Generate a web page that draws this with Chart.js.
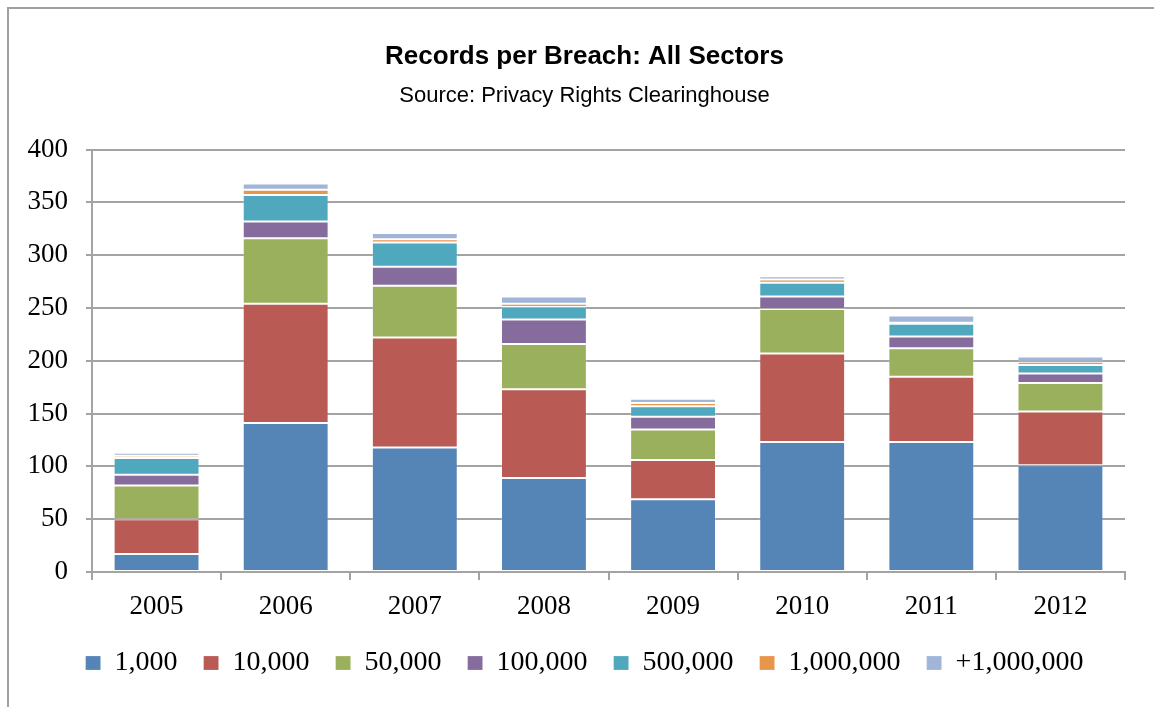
<!DOCTYPE html>
<html>
<head>
<meta charset="utf-8">
<title>Records per Breach: All Sectors</title>
<script src="https://cdn.jsdelivr.net/npm/chart.js@4.4.1/dist/chart.umd.min.js"></script>
<style>
    html, body { margin: 0; padding: 0; background: #fff; overflow: hidden; }
    #wrap { position: relative; width: 1154px; height: 707px; }
    /* chart frame: only its left and top edges fall inside the page */
    #frame {
        position: absolute; left: 7px; top: 7px;
        width: 1300px; height: 900px;
        border: 2px solid #a0a0a0;
    }
    #chart { position: absolute; left: 0; top: 0; }
</style>
</head>
<body>
<div id="wrap">
    <div id="frame"></div>
    <canvas id="chart" width="1154" height="707"></canvas>
</div>
<script>
// --- Data (breach counts by records lost, per year) ---
const years = ['2005', '2006', '2007', '2008', '2009', '2010', '2011', '2012'];
const seriesNames = ['1,000', '10,000', '50,000', '100,000', '500,000', '1,000,000', '+1,000,000'];

const upTo1k    = [17, 141, 118, 89, 69, 123, 123, 101];
const upTo10k   = [33, 113, 104, 84, 37, 84, 62, 51];
const upTo50k   = [32, 62, 49, 43, 29, 42, 27, 27];
const upTo100k  = [10, 16, 18, 23, 12, 12, 11, 9];
const upTo500k  = [16, 25, 23, 12, 10, 13, 12, 8];
const upTo1m    = [2, 5, 3, 3, 3, 3, 1, 3];
const over1m    = [3, 6, 6, 7, 4, 3, 7, 5];

const yTicks = [0, 50, 100, 150, 200, 250, 300, 350, 400];

// --- Palette ---
const COLORS = ['#5584b6', '#b95a54', '#9bb05d', '#856c9c', '#4fa8bd', '#e8964b', '#a1b5d8'];
const GRID = '#a3a3a3';
const SERIF = "'Liberation Serif', 'DejaVu Serif', serif";
const SANS = "'Liberation Sans', Arial, sans-serif";

const seriesValues = [upTo1k, upTo10k, upTo50k, upTo100k, upTo500k, upTo1m, over1m];

const datasets = seriesValues.map((values, i) => ({
    label: seriesNames[i],
    data: values,
    backgroundColor: COLORS[i],
    borderColor: 'rgba(255,255,255,0.2)',
    borderWidth: 1,
    borderSkipped: false,
    barPercentage: 0.665,
    categoryPercentage: 1.0
}));

// Title, subtitle and legend sit centred over the frame rather than the canvas,
// so nudge those full-width boxes right once the layout is done.
const centreHeaderBoxes = {
    id: 'centreHeaderBoxes',
    afterLayout(chart) {
        const shift = 22;
        chart.boxes
            .filter(b => b.fullSize && (b.position === 'top' || b.position === 'bottom'))
            .forEach(b => { b.left += shift; b.right += shift; });
    }
};

new Chart(document.getElementById('chart'), {
    type: 'bar',
    data: { labels: years, datasets: datasets },
    plugins: [centreHeaderBoxes],
    options: {
        responsive: false,
        animation: false,
        devicePixelRatio: 1,
        layout: { padding: { left: 0, right: 29, top: 0, bottom: 20 } },
        scales: {
            x: {
                stacked: true,
                offset: true,
                grid: {
                    offset: true,
                    drawOnChartArea: false,
                    drawTicks: true,
                    tickLength: 8,
                    color: GRID,
                    lineWidth: 2
                },
                border: { display: true, color: GRID, width: 2 },
                ticks: {
                    color: '#000',
                    padding: 11,
                    font: { family: SERIF, size: 27 }
                },
                afterFit: (scale) => { scale.height = 51; }
            },
            y: {
                stacked: true,
                min: 0,
                max: 400,
                afterBuildTicks: (scale) => {
                    scale.ticks = yTicks.map(v => ({ value: v }));
                },
                grid: {
                    color: GRID,
                    lineWidth: 2,
                    drawTicks: true,
                    tickLength: 6
                },
                border: { display: true, color: GRID, width: 2 },
                ticks: {
                    color: '#000',
                    padding: 18,
                    font: { family: SERIF, size: 27 }
                },
                afterFit: (scale) => { scale.width = 92; }
            }
        },
        plugins: {
            title: {
                display: true,
                text: 'Records per Breach: All Sectors',
                color: '#000',
                font: { family: SANS, size: 26, weight: 'bold' },
                padding: { top: 41, bottom: 8 }
            },
            subtitle: {
                display: true,
                text: 'Source: Privacy Rights Clearinghouse',
                color: '#000',
                font: { family: SANS, size: 22 },
                padding: { top: 3, bottom: 40 }
            },
            legend: {
                display: true,
                position: 'bottom',
                labels: {
                    color: '#000',
                    boxWidth: 15,
                    boxHeight: 14,
                    padding: 26,
                    font: { family: SERIF, size: 28 }
                }
            },
            tooltip: { enabled: false }
        }
    }
});
</script>
</body>
</html>
